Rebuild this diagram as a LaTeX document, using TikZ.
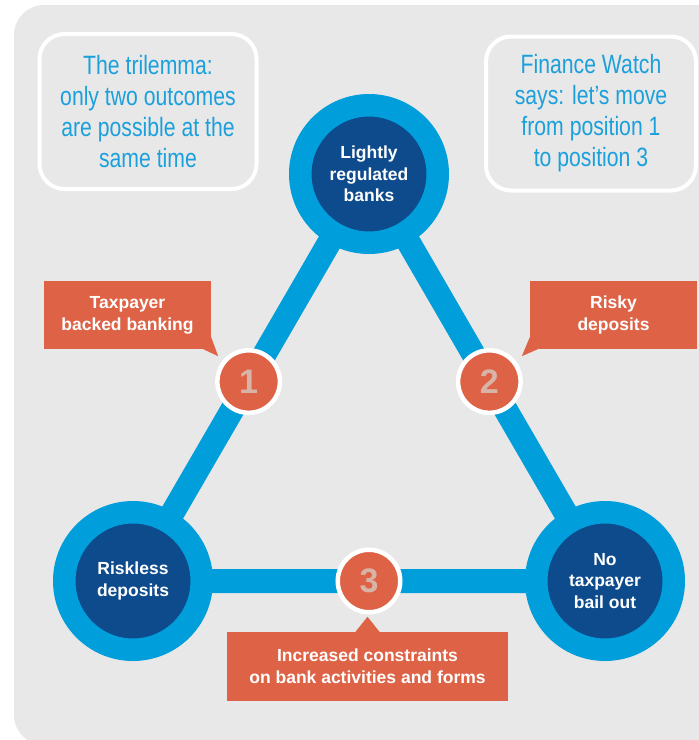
\documentclass[tikz,border=0pt]{standalone}
\usepackage{fontspec}
\setmainfont{Liberation Sans}
\newfontfamily\narrowfont[FakeStretch=0.8]{Liberation Sans}
\usepackage{tikz}
\usetikzlibrary{positioning,calc,backgrounds}
\definecolor{panelgrey}{RGB}{232,232,232}
\definecolor{fwblue}{RGB}{0,158,219}
\definecolor{fwnavy}{RGB}{14,75,141}
\definecolor{fworange}{RGB}{222,98,69}
\definecolor{fwrose}{RGB}{216,180,168}
\definecolor{fwtext}{RGB}{27,160,220}
\tikzset{
  hub/.style={circle, draw=fwblue, line width=22.5pt, fill=fwnavy, minimum size=137.5pt,
              inner sep=0pt, align=center, text=white, font=\fontsize{17.5}{21.5}\selectfont\bfseries},
  num/.style={circle, draw=white, line width=4.5pt, fill=fworange, minimum size=62.5pt,
              inner sep=0pt, text=fwrose, font=\fontsize{34}{34}\selectfont\bfseries},
  bar/.style={draw=fwblue, line width=24pt},
  callout/.style={fill=fworange, inner sep=0pt, align=center, text=white,
                  font=\fontsize{17.5}{22}\selectfont\bfseries},
  note/.style={draw=white, line width=4pt, rounded corners=25pt, inner sep=0pt, align=center,
               text=fwtext, font=\narrowfont\fontsize{26.5}{31}\selectfont}
}

\begin{document}
\begin{tikzpicture}[x=1pt, y=-1pt]
  \useasboundingbox (0,0) rectangle (699,740);
  % the three positions of the trilemma
  \node[hub] (banks) at (369,174) {Lightly\\regulated\\banks};
  \node[hub] (riskless) at (133,581) {Riskless\\deposits};
  \node[hub] (bailout) at (605,581) {No\\taxpayer\\bail out};
  \begin{pgfonlayer}{background}
    \fill[white] (0,0) rectangle (699,740);
    \fill[panelgrey, rounded corners=30pt] (14,5) rectangle (730,745);
    \draw[bar] (banks.center) -- (riskless.center) -- (bailout.center) -- cycle;
  \end{pgfonlayer}
  % numbered outcomes on the sides
  \node[num] (n1) at ($(banks)!0.51!(riskless)$) {1};
  \node[num] (n2) at ($(banks)!0.51!(bailout)$) {2};
  \node[num] (n3) at ($(riskless)!0.5!(bailout)$) {3};
  % callouts
  \node[callout, minimum width=167pt, minimum height=68pt] (cb1) at (127.5,315) {Taxpayer\\backed banking};
  \node[callout, minimum width=167pt, minimum height=68pt] (cb2) at (613.5,315) {Risky\\deposits};
  \node[callout, minimum width=281pt, minimum height=69pt] (cb3) at (367.5,666.5) {Increased constraints\\on bank activities and forms};
  \fill[fworange] ([yshift=12pt]cb1.south east) -- ([shift={(7pt,-7pt)}]cb1.south east) -- ([xshift=-8pt]cb1.south east) -- cycle;
  \fill[fworange] ([yshift=12pt]cb2.south west) -- ([shift={(-8pt,-7pt)}]cb2.south west) -- ([xshift=8pt]cb2.south west) -- cycle;
  \fill[fworange] ([xshift=-12pt]cb3.north) -- ([yshift=15pt]cb3.north) -- ([xshift=12pt]cb3.north) -- cycle;
  % notes at the top
  \node[note, minimum width=217pt, minimum height=155pt] (trilemma) at (148,111.5)
    {The trilemma:\\only two outcomes\\are possible at the\\same time};
  \node[note, minimum width=210pt, minimum height=154pt] (fw) at (591,113.5)
    {Finance Watch\\says: let’s move\\from position 1\\to position 3};
\end{tikzpicture}
\end{document}
